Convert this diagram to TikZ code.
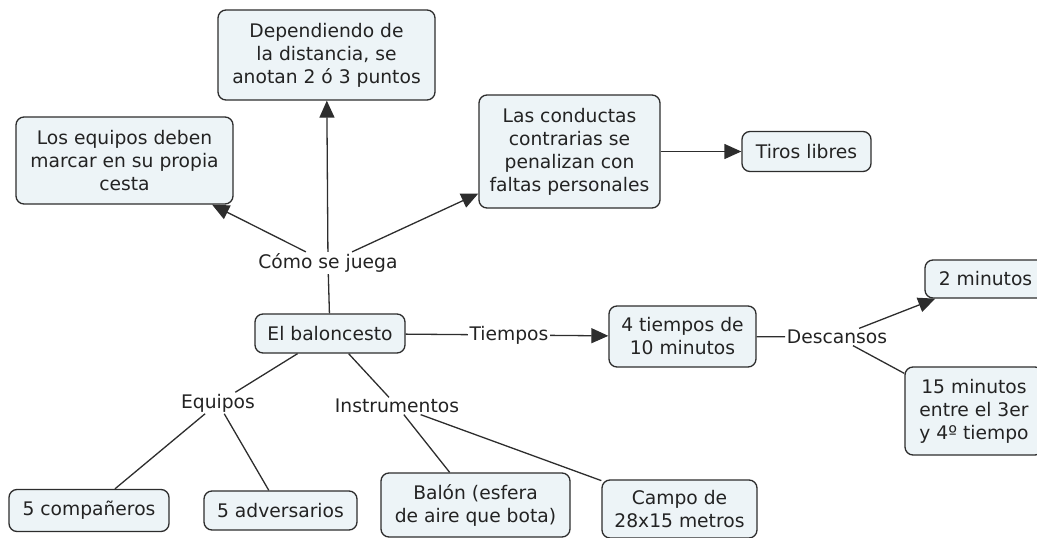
\documentclass[tikz,border=0pt]{standalone}
\usepackage{fontspec}
\setmainfont{DejaVu Sans}
\usetikzlibrary{arrows.meta}
\definecolor{boxfill}{RGB}{237,244,247}
\definecolor{boxline}{RGB}{45,45,45}
\definecolor{txt}{RGB}{35,35,35}

\begin{document}
\begin{tikzpicture}[x=1pt, y=-1pt,
    concept/.style={draw=boxline, fill=boxfill, line width=1.3pt, rounded corners=8pt,
        align=center, inner sep=0pt, text=txt, font=\fontsize{18.7}{23}\selectfont},
    linkword/.style={inner sep=1.5pt, text=txt, font=\fontsize{18.7}{23}\selectfont},
    link/.style={draw=boxline, line width=1.3pt},
    arrowlink/.style={link, -{Triangle[length=17pt, width=15pt]}}]
    % Page
    \useasboundingbox (0,0) rectangle (1037,538);

    % Main concept
    \node[concept, minimum width=150pt, minimum height=39pt] (bal) at (330, 333.5) {El baloncesto};

    % Upper branch
    \node[concept, minimum width=217pt, minimum height=90pt] (dep) at (326.5, 55)
        {Dependiendo de\\la distancia, se\\anotan 2 ó 3 puntos};
    \node[concept, minimum width=217pt, minimum height=87pt] (propia) at (124.5, 160.5)
        {Los equipos deben\\marcar en su propia\\cesta};
    \node[concept, minimum width=181pt, minimum height=113pt] (cond) at (569.5, 151.5)
        {Las conductas\\contrarias se\\penalizan con\\faltas personales};
    \node[concept, minimum width=129pt, minimum height=40pt] (tiros) at (806.5, 151.5) {Tiros libres};

    % Right branch
    \node[concept, minimum width=147pt, minimum height=61pt] (cuatro) at (682.5, 336.5)
        {4 tiempos de\\10 minutos};
    \node[concept, minimum width=121pt, minimum height=38pt] (dos) at (985.5, 279) {2 minutos};
    \node[concept, minimum width=138pt, minimum height=88pt] (quince) at (974, 411)
        {15 minutos\\entre el 3er\\y 4º tiempo};

    % Lower branch
    \node[concept, minimum width=160pt, minimum height=42pt] (comp) at (89, 510.5) {5 compañeros};
    \node[concept, minimum width=153pt, minimum height=39pt] (adv) at (280.5, 510.5) {5 adversarios};
    \node[concept, minimum width=189pt, minimum height=64pt] (balon) at (475.5, 505)
        {Balón (esfera\\de aire que bota)};
    \node[concept, minimum width=155pt, minimum height=58pt] (campo) at (679.5, 509)
        {Campo de\\28x15 metros};

    % Linking words
    \node[linkword] (juega) at (328, 263) {Cómo se juega};
    \node[linkword] (tiempos) at (509, 335) {Tiempos};
    \node[linkword] (descansos) at (837, 337) {Descansos};
    \node[linkword] (equipos) at (218, 403) {Equipos};
    \node[linkword] (instr) at (397, 406) {Instrumentos};

    % Connectors
    \draw[link] (bal) -- (juega);
    \draw[arrowlink] (juega) -- (dep);
    \draw[arrowlink] (juega) -- (propia);
    \draw[arrowlink] (juega) -- (cond);
    \draw[arrowlink] (cond) -- (tiros);
    \draw[link] (bal) -- (tiempos);
    \draw[arrowlink] (tiempos) -- (cuatro);
    \draw[link] (cuatro) -- (descansos);
    \draw[arrowlink] (descansos) -- (dos);
    \draw[link] (descansos) -- (quince);
    \draw[link] (bal) -- (equipos);
    \draw[link] (equipos) -- (comp);
    \draw[link] (equipos) -- (adv);
    \draw[link] (bal) -- (instr);
    \draw[link] (instr) -- (balon);
    \draw[link] (instr) -- (campo);
\end{tikzpicture}
\end{document}
